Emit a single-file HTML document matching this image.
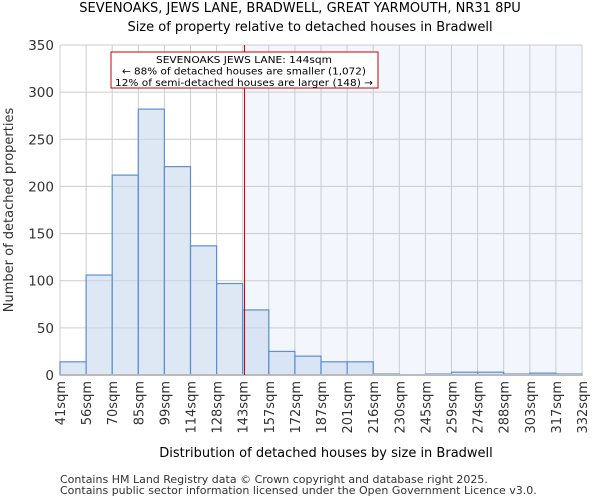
<!DOCTYPE html>
<html><head><meta charset="utf-8"><style>
body{margin:0;background:#fff;font-family:"DejaVu Sans","Liberation Sans",sans-serif;}
</style></head><body>
<svg id="c" width="600" height="500" xmlns="http://www.w3.org/2000/svg" font-family="DejaVu Sans, Liberation Sans, sans-serif">
<text x="300" y="12" text-anchor="middle" font-size="13">SEVENOAKS, JEWS LANE, BRADWELL, GREAT YARMOUTH, NR31 8PU</text>
<text x="310" y="31" text-anchor="middle" font-size="13">Size of property relative to detached houses in Bradwell</text>
<g id="plot"></g>
<text x="326" y="457" text-anchor="middle" font-size="13">Distribution of detached houses by size in Bradwell</text>
<text transform="translate(13,210) rotate(-90)" text-anchor="middle" font-size="13" fill="#333">Number of detached properties</text>
<text x="60" y="483" font-size="11" fill="#333">Contains HM Land Registry data © Crown copyright and database right 2025.</text>
<text x="60" y="494" font-size="11" fill="#333">Contains public sector information licensed under the Open Government Licence v3.0.</text>
</svg>
<script>
const labels=["41sqm","56sqm","70sqm","85sqm","99sqm","114sqm","128sqm","143sqm","157sqm","172sqm","187sqm","201sqm","216sqm","230sqm","245sqm","259sqm","274sqm","288sqm","303sqm","317sqm","332sqm"];
const counts=[14,106,212,282,221,137,97,69,25,20,14,14,1,0,1,3,3,1,2,1];
const yTicks=[0,50,100,150,200,250,300,350];
const markerBin=7.07;
const X0=60,X1=582,Y0=375,Y1=45,YMAX=350;
const NS="http://www.w3.org/2000/svg";
const g=document.getElementById('plot');
const xs=i=>X0+(X1-X0)*i/counts.length;
const ys=v=>Y0-(Y0-Y1)*v/YMAX;
function el(t,a){const e=document.createElementNS(NS,t);for(const k in a)e.setAttribute(k,a[k]);g.appendChild(e);return e;}
const mx=xs(markerBin);
let r=el('rect',{x:mx,y:Y1,width:X1-mx,height:Y0-Y1,fill:'#f3f6fd'});


yTicks.forEach(t=>{
 let l=el('line',{x1:X0,x2:X1,y1:ys(t),y2:ys(t),stroke:'#ccc'});
 
 
 let tx=el('text',{x:X0-6,y:ys(t)+5,'text-anchor':'end','font-size':13.5,fill:'#333'});
 tx.textContent=t;
 
 
});
labels.forEach((lb,i)=>{
 let l=el('line',{x1:xs(i),x2:xs(i),y1:Y1,y2:Y0,stroke:'#ccc'});
 
 
 let tx=el('text',{transform:`translate(${xs(i)+5},${Y0+6}) rotate(-90)`,'text-anchor':'end','font-size':13,fill:'#333'});
 tx.textContent=lb;
 
 
});
counts.forEach((v,i)=>{
 let b=el('rect',{x:xs(i),y:ys(v),width:xs(i+1)-xs(i),height:Y0-ys(v),fill:'rgba(200,216,238,0.6)',stroke:'#5b8fd6','stroke-width':1.2});
 
 
});
let ax=el('line',{x1:X0,x2:X1,y1:Y0,y2:Y0,stroke:'#bbb','stroke-width':2});


let ml=el('line',{x1:mx,x2:mx,y1:Y1,y2:Y0,stroke:'#c00','stroke-width':1});


let box=el('rect',{x:111,y:52,width:267,height:36,fill:'#fff',stroke:'#c00'});


["SEVENOAKS JEWS LANE: 144sqm","← 88% of detached houses are smaller (1,072)","12% of semi-detached houses are larger (148) →"].forEach((s,k)=>{
 let t=el('text',{x:244,y:63+k*11.5,'text-anchor':'middle','font-size':10,'textLength':k==0?176:(k==1?244:258),'lengthAdjust':'spacingAndGlyphs'});
 t.textContent=s;
 
 
});
</script>
</body></html>
